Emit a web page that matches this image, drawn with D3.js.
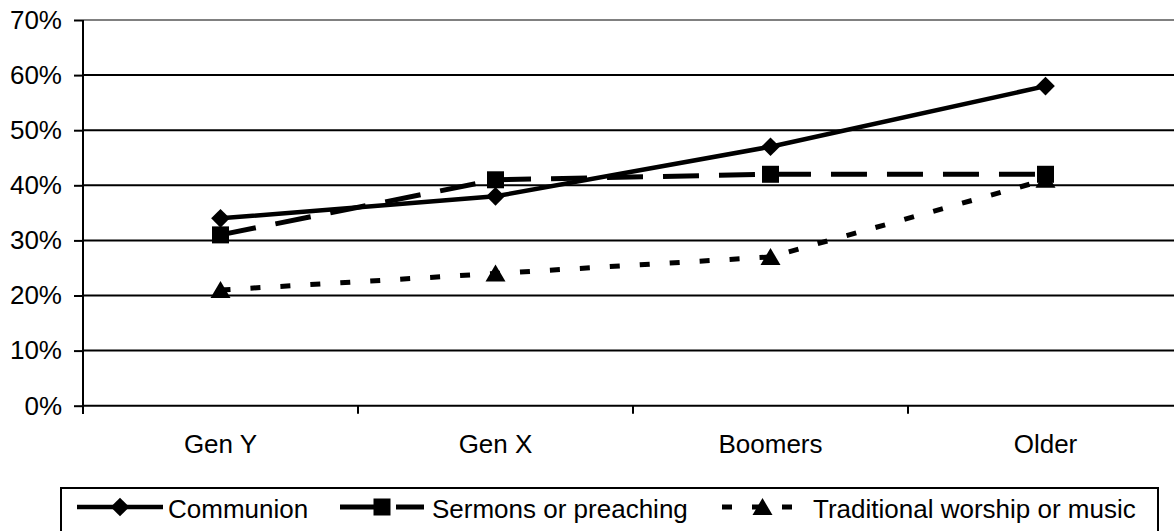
<!DOCTYPE html>
<html>
<head>
<meta charset="utf-8">
<script src="https://cdn.jsdelivr.net/npm/d3@7"></script>
<style>
  html, body { margin: 0; padding: 0; background: #fff; overflow: hidden; }
  svg { display: block; font-family: "Liberation Sans", Arial, sans-serif; }
</style>
</head>
<body>
<div id="chart"></div>
<script>
// data
const categories = ["Gen Y", "Gen X", "Boomers", "Older"];
const communion = [34, 38, 47, 58];
const sermons = [31, 41, 42, 42];
const traditional = [21, 24, 27, 41];
const yTicks = [0, 10, 20, 30, 40, 50, 60, 70];

const width = 1174, height = 531;
const fontSize = 26;

const svg = d3.select("#chart").append("svg")
    .attr("width", width)
    .attr("height", height);

// plot area runs a bit past the right edge of the window (clipped like the original)
const x = d3.scaleBand().domain(categories).range([83, 1183]).padding(0);
const y = d3.scaleLinear().domain([0, 70]).range([405.7, 20]);

// gridlines
svg.append("g")
  .selectAll("line")
  .data(yTicks)
  .join("line")
    .attr("x1", 83).attr("x2", 1183)
    .attr("y1", d => y(d)).attr("y2", d => y(d))
    .attr("stroke", d => d === 70 ? "#808080" : "#000")
    .attr("stroke-width", 2);

// y axis
const yAxis = d3.axisLeft(y).tickValues(yTicks).tickSize(9).tickPadding(12)
    .tickFormat(d => d + "%");
const gy = svg.append("g").attr("transform", "translate(83,0)").call(yAxis);
gy.select(".domain").remove();
gy.selectAll(".tick line").attr("stroke", "#000").attr("stroke-width", 2);
gy.selectAll(".tick text").attr("font-size", fontSize).attr("fill", "#000")
    .attr("font-family", "'Liberation Sans', Arial, sans-serif");
svg.append("line")
    .attr("x1", 83).attr("x2", 83).attr("y1", 20).attr("y2", 414)
    .attr("stroke", "#000").attr("stroke-width", 2);

// x axis: ticks on the band boundaries, labels centred on bands
const boundaries = categories.map(c => x(c));
svg.append("g")
  .selectAll("line")
  .data(boundaries)
  .join("line")
    .attr("x1", d => d).attr("x2", d => d)
    .attr("y1", y(0)).attr("y2", y(0) + 8)
    .attr("stroke", "#000").attr("stroke-width", 2);
svg.append("g")
  .selectAll("text")
  .data(categories)
  .join("text")
    .attr("x", d => x(d) + x.bandwidth() / 2)
    .attr("y", 453)
    .attr("text-anchor", "middle")
    .attr("font-size", fontSize)
    .text(d => d);

// series
const series = [
  { name: "Traditional worship or music", values: traditional, dash: "10,20", symbol: "triangle" },
  { name: "Sermons or preaching", values: sermons, dash: "36,20", symbol: "square" },
  { name: "Communion", values: communion, dash: null, symbol: "diamond" }
];

function drawSymbol(g, type, cx, cy) {
  if (type === "diamond") {
    g.append("path")
      .attr("d", d3.symbol(d3.symbolSquare, 175)())
      .attr("transform", `translate(${cx},${cy}) rotate(45)`)
      .attr("fill", "#000");
  } else if (type === "square") {
    g.append("rect")
      .attr("x", cx - 8.5).attr("y", cy - 8.5)
      .attr("width", 17).attr("height", 17)
      .attr("fill", "#000");
  } else {
    g.append("path")
      .attr("d", `M${cx},${cy - 9}L${cx + 10},${cy + 8}L${cx - 10},${cy + 8}Z`)
      .attr("fill", "#000");
  }
}

const line = d3.line()
    .x((d, i) => x(categories[i]) + x.bandwidth() / 2)
    .y(d => y(d));

series.forEach(s => {
  const g = svg.append("g");
  g.append("path")
    .attr("d", line(s.values))
    .attr("fill", "none")
    .attr("stroke", "#000")
    .attr("stroke-width", s.dash ? 5 : 4.5)
    .attr("stroke-dasharray", s.dash);
  s.values.forEach((v, i) => drawSymbol(g, s.symbol, x(categories[i]) + x.bandwidth() / 2, y(v)));
});

// legend
const legend = svg.append("g");
legend.append("rect")
    .attr("x", 61).attr("y", 488)
    .attr("width", 1097).attr("height", 60)
    .attr("fill", "none").attr("stroke", "#000").attr("stroke-width", 2);

const legendItems = [
  { name: "Communion", x1: 77, x2: 163, dash: null, symbol: "diamond", tx: 168 },
  { name: "Sermons or preaching", x1: 340, x2: 424, dash: "36,20", symbol: "square", tx: 432 },
  { name: "Traditional worship or music", x1: 722, x2: 803, dash: "10,20", symbol: "triangle", tx: 813 }
];
legendItems.forEach(it => {
  const g = legend.append("g");
  g.append("line")
    .attr("x1", it.x1).attr("x2", it.x2).attr("y1", 507).attr("y2", 507)
    .attr("stroke", "#000").attr("stroke-width", it.dash ? 5 : 4.5)
    .attr("stroke-dasharray", it.dash);
  drawSymbol(g, it.symbol, (it.x1 + it.x2) / 2, 507);
  g.append("text")
    .attr("x", it.tx).attr("y", 518)
    .attr("font-size", fontSize)
    .text(it.name);
});
</script>
</body>
</html>
